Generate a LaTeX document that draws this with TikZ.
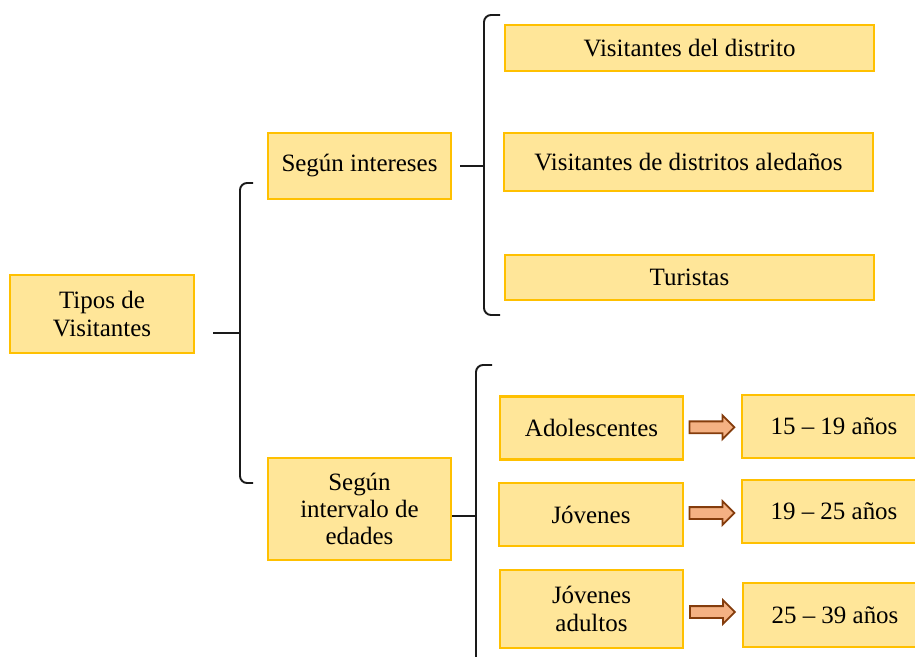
\documentclass[tikz,border=0pt]{standalone}
\usepackage{fontspec}
\setmainfont{Liberation Serif}
\usetikzlibrary{arrows.meta, positioning, shapes.arrows, calc}
\definecolor{boxfill}{HTML}{FFE699}
\definecolor{boxline}{HTML}{FFC000}
\definecolor{arrfill}{HTML}{F4B183}
\definecolor{arrline}{HTML}{843C0C}
\definecolor{brcline}{HTML}{1A1A1A}

\begin{document}
\begin{tikzpicture}[
    every node/.style={font=\fontsize{14.2}{15.5}\selectfont},
    cat/.style={rectangle, draw=boxline, fill=boxfill, line width=1.2pt, align=center, minimum width=3.66cm},
    item/.style={cat, minimum width=7.38cm},
    blk/.style={single arrow, draw=arrline, fill=arrfill, line width=1pt, minimum width=0.46cm, minimum height=0.9cm, single arrow head extend=0.12cm, inner sep=0.1cm, xshift=-0.07cm},
    brc/.style={line width=1.1pt, color=brcline, rounded corners=4pt},
    tipl/.style={line width=1.1pt, color=brcline}
]
\path[use as bounding box, clip] (0,0) rectangle (18.3,13.12);

% Root
\node[cat, minimum width=3.68cm, minimum height=1.56cm] (tipos) at (2.04,6.84) {Tipos de\\Visitantes};

% Criteria
\node[cat, minimum height=1.32cm] (sint)  at (7.19,9.80) {Según intereses};
\node[cat, minimum height=2.04cm] (sedad) at (7.19,2.94) {Según\\intervalo de\\edades};

% By interest
\node[item, minimum height=0.92cm] (vdis) at (13.79,12.16) {Visitantes del distrito};
\node[item, minimum height=1.16cm] (vale) at (13.77,9.88)  {Visitantes de distritos aledaños};
\node[item, minimum height=0.90cm] (tur)  at (13.79,7.57)  {Turistas};

% By age group
\node[cat, minimum height=1.26cm] (ado) at (11.83,4.56) {Adolescentes};
\node[cat, minimum height=1.26cm, minimum width=3.68cm] (jov) at (11.82,2.83) {Jóvenes};
\node[cat, minimum height=1.56cm] (jad) at (11.83,0.94) {Jóvenes\\adultos};

\node[cat, minimum height=1.26cm, minimum width=3.68cm] (r1) at (16.68,4.59) {15 -- 19 años};
\node[cat, minimum height=1.26cm, minimum width=3.68cm] (r2) at (16.68,2.89) {19 -- 25 años};
\node[cat, minimum height=1.28cm, minimum width=3.68cm] (r3) at (16.70,0.82) {25 -- 39 años};

% Block arrows
\node[blk] (a1) at ($(ado.east)!0.5!(r1.west)$) {};
\node[blk] (a2) at ($(jov.east)!0.5!(r2.west)$) {};
\node[blk] (a3) at ($(jad.east)!0.5!(r3.west)$) {};

% Braces
\coordinate (t1) at (4.26,6.46);
\coordinate (b1) at (4.80,6.46);
\draw[brc] (5.06,9.46) -- (4.80,9.46) -- (4.80,3.46) -- (5.06,3.46);
\draw[tipl] (t1) -- (b1);

\coordinate (b2) at (9.68,9.80);
\draw[brc] (10.00,12.82) -- (9.68,12.82) -- (9.68,6.82) -- (10.00,6.82);
\draw[tipl] ([xshift=0.16cm]sint.east) -- (b2);

\coordinate (b3) at (9.52,2.80);
\draw[brc] (9.84,5.82) -- (9.52,5.82) -- (9.52,-0.50);
\draw[tipl] (sedad.east |- b3) -- (b3);
\end{tikzpicture}
\end{document}
